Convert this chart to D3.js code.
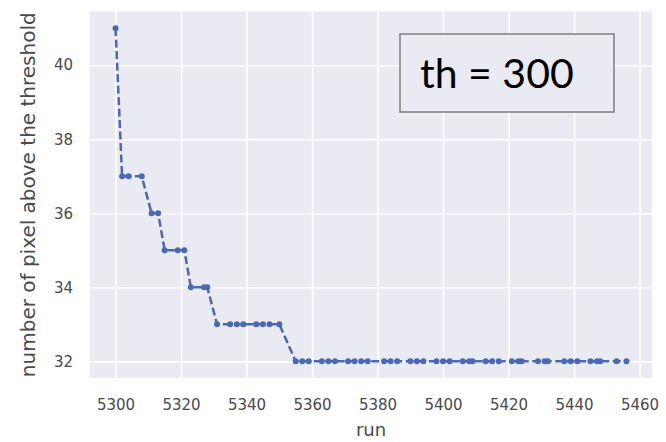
<!DOCTYPE html>
<html>
<head>
<meta charset="utf-8">
<script src="https://cdn.jsdelivr.net/npm/d3@7"></script>
<style>
  html, body { margin: 0; padding: 0; background: #ffffff; }
  svg { display: block; }
</style>
</head>
<body>
<svg id="chart" width="666" height="442"></svg>
<script>
// ---- data ----
const runs = [
  5300,
  5302, 5304, 5308,
  5311, 5313,
  5315, 5319, 5321,
  5323, 5327, 5328,
  5331, 5335, 5337, 5339, 5343, 5345, 5347, 5350,
  5355, 5357, 5359, 5363, 5365, 5367, 5371, 5373, 5375, 5377,
  5382, 5384, 5386, 5390, 5392, 5394, 5398, 5400, 5402, 5406,
  5408, 5409, 5413, 5415, 5417, 5421, 5423, 5424, 5429, 5431,
  5432, 5437, 5439, 5441, 5445, 5447, 5448, 5453, 5456
];
const pixels = [
  41,
  37, 37, 37,
  36, 36,
  35, 35, 35,
  34, 34, 34,
  33, 33, 33, 33, 33, 33, 33, 33,
  32, 32, 32, 32, 32, 32, 32, 32, 32, 32,
  32, 32, 32, 32, 32, 32, 32, 32, 32, 32,
  32, 32, 32, 32, 32, 32, 32, 32, 32, 32,
  32, 32, 32, 32, 32, 32, 32, 32, 32
];
const xTicks = [5300, 5320, 5340, 5360, 5380, 5400, 5420, 5440, 5460];
const yTicks = [32, 34, 36, 38, 40];
const xLabel = "run";
const yLabel = "number of pixel above the threshold";
const annotation = "th = 300";

// ---- layout ----
const plot = { left: 90, right: 652, top: 11.5, bottom: 378 };
const svg = d3.select("#chart");

const xMin = d3.min(runs), xMax = d3.max(runs);
const yMin = d3.min(pixels), yMax = d3.max(pixels);
const xPad = (xMax - xMin) * 0.05, yPad = (yMax - yMin) * 0.05;

const x = d3.scaleLinear().domain([xMin - xPad, xMax + xPad]).range([plot.left, plot.right]);
const y = d3.scaleLinear().domain([yMin - yPad, yMax + yPad]).range([plot.bottom, plot.top]);

// background
svg.append("rect")
  .attr("x", plot.left).attr("y", plot.top)
  .attr("width", plot.right - plot.left).attr("height", plot.bottom - plot.top)
  .attr("fill", "#eaeaf2");

// grid via axes
const gx = svg.append("g")
  .attr("transform", `translate(0,${plot.bottom})`)
  .call(d3.axisBottom(x).tickValues(xTicks).tickSize(-(plot.bottom - plot.top)).tickPadding(21).tickFormat(d3.format("d")));
const gy = svg.append("g")
  .attr("transform", `translate(${plot.left},0)`)
  .call(d3.axisLeft(y).tickValues(yTicks).tickSize(-(plot.right - plot.left)).tickPadding(17).tickFormat(d3.format("d")));

[gx, gy].forEach(g => {
  g.select(".domain").remove();
  g.selectAll(".tick line").attr("stroke", "#ffffff").attr("stroke-width", 1.6);
  g.selectAll(".tick text")
    .attr("fill", "#4a4a4a")
    .style("font-family", "DejaVu Sans, sans-serif")
    .style("font-size", "15px");
});

// line
const line = d3.line().x((d, i) => x(runs[i])).y(d => y(d));
svg.append("path")
  .datum(pixels)
  .attr("d", line)
  .attr("fill", "none")
  .attr("stroke", "#4c68b3")
  .attr("stroke-width", 2.5)
  .attr("stroke-dasharray", "8,3.5");

// markers
svg.append("g").selectAll("circle")
  .data(pixels)
  .join("circle")
  .attr("cx", (d, i) => x(runs[i]))
  .attr("cy", d => y(d))
  .attr("r", 3)
  .attr("fill", "#4c68b3");

// axis labels
svg.append("text")
  .attr("x", (plot.left + plot.right) / 2)
  .attr("y", 436)
  .attr("text-anchor", "middle")
  .attr("fill", "#4a4a4a")
  .style("font-family", "DejaVu Sans, sans-serif")
  .style("font-size", "18px")
  .text(xLabel);

svg.append("text")
  .attr("transform", `translate(35,${(plot.top + plot.bottom) / 2}) rotate(-90)`)
  .attr("text-anchor", "middle")
  .attr("fill", "#4a4a4a")
  .style("font-family", "DejaVu Sans, sans-serif")
  .style("font-size", "20px")
  .text(yLabel);

// annotation box
svg.append("rect")
  .attr("x", 400).attr("y", 34)
  .attr("width", 214).attr("height", 78)
  .attr("fill", "#eaeaf2")
  .attr("stroke", "#7f7f7f")
  .attr("stroke-width", 1.5);
svg.append("text")
  .attr("x", 420)
  .attr("y", 88)
  .attr("fill", "#000000")
  .style("font-family", "Lato, Open Sans, sans-serif")
  .style("font-size", "41px")
  .text(annotation);
</script>
</body>
</html>
